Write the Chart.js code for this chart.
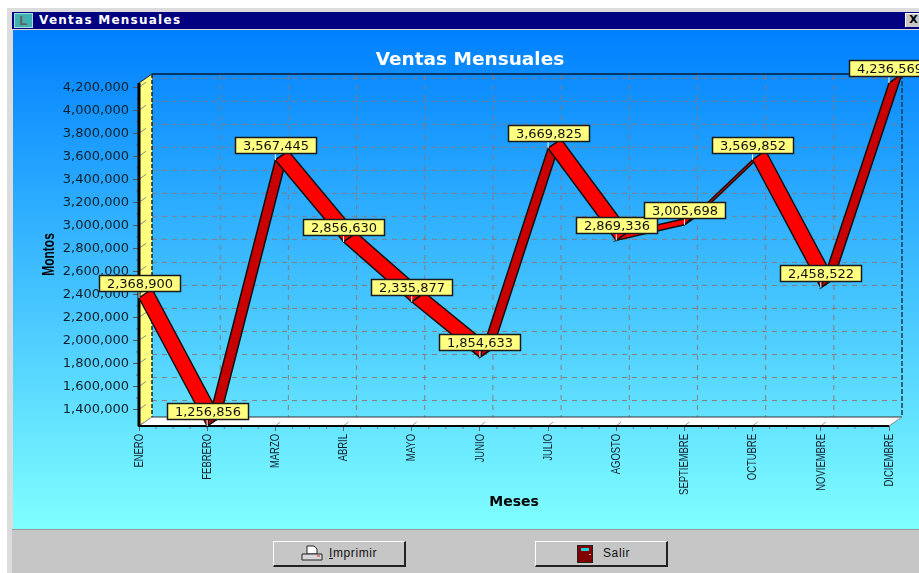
<!DOCTYPE html>
<html>
<head>
<meta charset="utf-8">
<title>Ventas Mensuales</title>
<script src="https://cdn.jsdelivr.net/npm/chart.js@4"></script>
<style>
  html, body { margin: 0; padding: 0; background: #fff; overflow: hidden; }
  #page { position: relative; width: 919px; height: 573px; overflow: hidden; }
  #win { position: absolute; left: 7px; top: 8px; width: 920px; height: 570px; background: #dcdcdc; }
  #titlebar {
    position: absolute; left: 12px; top: 12px; width: 907px; height: 17px; background: #000080;
    color: #fff; font: bold 12px "DejaVu Sans"; line-height: 16px; letter-spacing: 1.25px;
  }
  #titlebar span { position: absolute; left: 27px; top: 0; }
  #icon {
    position: absolute; left: 2px; top: 1px; width: 19px; height: 15px; background: #40b0b0;
    border: 1px solid #a0e0e0; box-sizing: border-box; color: #606060;
    font: bold 13px "Liberation Sans"; line-height: 13px; text-align: center; letter-spacing: 0;
  }
  #close {
    position: absolute; left: 893px; top: 1px; width: 16px; height: 14px; background: #c6c6c6;
    border-top: 1px solid #fff; border-left: 1px solid #fff; box-sizing: border-box;
    color: #000; font: bold 11px "DejaVu Sans"; line-height: 12px; text-align: center; letter-spacing: 0;
  }
  #plot {
    position: absolute; left: 13px; top: 30px; width: 906px; height: 499px;
    background: linear-gradient(to bottom, #0080ff, #80ffff);
  }
  #footer { position: absolute; left: 12px; top: 529px; width: 907px; height: 44px; background: #c6c6c6; border-top: 1px solid #9a9a9a; box-sizing: border-box; }
  .btn {
    position: absolute; top: 541px; width: 133px; height: 26px; box-sizing: border-box; background: #c6c6c6;
    border-top: 1px solid #fff; border-left: 1px solid #fff; border-right: 2px solid #222; border-bottom: 2px solid #222;
    font: 12px "Liberation Sans"; letter-spacing: .6px; color: #111;
  }
  .btn svg { position: absolute; top: 3px; }
  .btn span { position: absolute; top: 4px; }
</style>
</head>
<body>
<div id="page">
  <div id="win"></div>
  <div id="titlebar"><div id="icon">L</div><span>Ventas Mensuales</span><div id="close">X</div></div>
  <div id="plot"><canvas id="ventas_chart" width="906" height="499"></canvas></div>
  <div id="footer"></div>
  <div class="btn" style="left:273px">
    <svg style="left:27px" width="22" height="18"><path d="M6 1h7l3 3v5H6z" fill="#fff" stroke="#222"/><path d="M1 9h20v6H1z" fill="#d8d8d8" stroke="#222"/><path d="M16 11h3" stroke="#e03030"/></svg>
    <span style="left:55px"><u>I</u>mprimir</span>
  </div>
  <div class="btn" style="left:535px">
    <svg style="left:41px" width="16" height="18"><rect x="0.5" y="0.5" width="15" height="17" fill="#800000" stroke="#222"/><rect x="4" y="3" width="8" height="3" fill="#20d0e0"/><rect x="12" y="9" width="2" height="1" fill="#e0c040"/></svg>
    <span style="left:67px">Salir</span>
  </div>
</div>
<script>
'use strict';

// Data
const months = ['ENERO', 'FEBRERO', 'MARZO', 'ABRIL', 'MAYO', 'JUNIO', 'JULIO', 'AGOSTO', 'SEPTIEMBRE', 'OCTUBRE', 'NOVIEMBRE', 'DICIEMBRE'];
const sales = [2368900, 1256856, 3567445, 2856630, 2335877, 1854633, 3669825, 2869336, 3005698, 3569852, 2458522, 4236569];
const yTicks = [1400000, 1600000, 1800000, 2000000, 2200000, 2400000, 2600000, 2800000, 3000000, 3200000, 3400000, 3600000, 3800000, 4000000, 4200000];

// Depth of the fake 3D box
const DX = 13;
const DY = -9;
const GRID = 'rgba(140,118,118,0.9)';
const LABEL_FONT = '13px "DejaVu Sans"';

function poly(ctx, pts, fill, stroke, width) {
    ctx.beginPath();
    pts.forEach((p, i) => i ? ctx.lineTo(p[0], p[1]) : ctx.moveTo(p[0], p[1]));
    ctx.closePath();
    if (fill) { ctx.fillStyle = fill; ctx.fill(); }
    if (stroke) { ctx.strokeStyle = stroke; ctx.lineWidth = width || 1; ctx.stroke(); }
}

function seg(ctx, x1, y1, x2, y2, color, width, dash) {
    ctx.beginPath();
    ctx.setLineDash(dash || []);
    ctx.moveTo(x1, y1);
    ctx.lineTo(x2, y2);
    ctx.strokeStyle = color;
    ctx.lineWidth = width || 1;
    ctx.stroke();
    ctx.setLineDash([]);
}

// Squeezed, rotated text: the reference uses a narrow face that is not installed
function narrowText(ctx, text, x, y, squeeze, align) {
    ctx.save();
    ctx.translate(x, y);
    ctx.rotate(-Math.PI / 2);
    ctx.scale(squeeze, 1);
    ctx.textAlign = align;
    ctx.textBaseline = 'middle';
    ctx.fillText(text, 0, 0);
    ctx.restore();
}

// Walls, floor and grid, behind the ribbon
const boxPlugin = {
    id: 'box3d',
    beforeDatasetsDraw(chart) {
        const ctx = chart.ctx;
        const { left, right, top, bottom } = chart.chartArea;
        const scaleX = chart.scales.x;
        const scaleY = chart.scales.y;
        const dash = [5, 5];
        ctx.save();

        poly(ctx, [[left, top], [left + DX, top + DY], [left + DX, bottom + DY], [left, bottom]], '#ffff80');
        poly(ctx, [[left, bottom], [left + DX, bottom + DY], [right + DX, bottom + DY], [right, bottom]], '#ffffff');

        scaleY.ticks.forEach((t, i) => {
            const y = scaleY.getPixelForValue(t.value);
            seg(ctx, left + DX, y + DY, right + DX, y + DY, GRID, 1, dash);
            seg(ctx, left, y, left + 7, y - 5, '#888', 1);
            if (i < scaleY.ticks.length - 1) {
                const mid = (y + scaleY.getPixelForValue(scaleY.ticks[i + 1].value)) / 2;
                seg(ctx, left - 3, mid, left, mid, '#666', 1);
            }
        });
        scaleX.ticks.forEach((t, i) => {
            const x = scaleX.getPixelForValue(i);
            if (i > 0 && i < months.length - 1) {
                seg(ctx, x + DX, top + DY + 1, x + DX, bottom + DY, GRID, 1, dash);
            }
            if (i < months.length - 1) {
                seg(ctx, x, bottom, x + 5, bottom - 4, '#999', 1);
                const step = (scaleX.getPixelForValue(i + 1) - x) / 4;
                for (let k = 1; k < 4; k++) seg(ctx, x + step * k, bottom, x + step * k, bottom + 3, '#777', 1);
            }
        });

        seg(ctx, right + DX, top + DY, right + DX, bottom + DY, '#1c3a50', 1.5, [5, 2]);
        seg(ctx, left + DX, top + DY, right + DX, top + DY, '#0a1a30', 1.5);
        seg(ctx, left + DX, top + DY, left + DX, bottom + DY, '#222', 1.5, [4, 2]);
        seg(ctx, left + DX, bottom + DY, right + DX, bottom + DY, '#333', 1);
        seg(ctx, left, top, left + DX, top + DY, '#222', 1);
        seg(ctx, left, bottom, left + DX, bottom + DY, '#888', 1);
        seg(ctx, right, bottom, right + DX, bottom + DY, '#888', 1);
        seg(ctx, left, top, left, bottom, '#000', 3);
        seg(ctx, left - 1, bottom, right, bottom, '#000', 2);

        // Month labels and the vertical axis name
        ctx.fillStyle = '#10202c';
        ctx.font = '13.5px "Liberation Sans"';
        months.forEach((m, i) => narrowText(ctx, m, scaleX.getPixelForValue(i), bottom + 8, 0.7, 'right'));
        ctx.fillStyle = '#000';
        ctx.font = 'bold 16px "Liberation Sans"';
        narrowText(ctx, 'Montos', 37, (top + bottom) / 2, 0.75, 'center');
        ctx.restore();
    },

    // Ribbon and value boxes, built from the dataset's own points
    afterDatasetsDraw(chart) {
        const ctx = chart.ctx;
        const pts = chart.getDatasetMeta(0).data;
        ctx.save();
        for (let i = 0; i < pts.length - 1; i++) {
            const a = pts[i];
            const b = pts[i + 1];
            const cross = (b.x - a.x) * DY - (b.y - a.y) * DX;
            poly(ctx, [[a.x, a.y], [b.x, b.y], [b.x + DX, b.y + DY], [a.x + DX, a.y + DY]],
                cross < 0 ? '#ff0000' : '#c80000', '#111', 1.5);
        }

        ctx.font = LABEL_FONT;
        ctx.textAlign = 'center';
        ctx.textBaseline = 'middle';
        pts.forEach((p, i) => {
            const w = 81;
            const h = 16;
            const bx = Math.round(p.x - w / 2) + 0.5;
            const by = Math.round(p.y - 7 - h) + 0.5;
            seg(ctx, p.x, p.y, p.x, by + h, '#fff', 1);
            ctx.fillStyle = '#ffff80';
            ctx.fillRect(bx, by, w, h);
            ctx.strokeStyle = '#1a1a1a';
            ctx.lineWidth = 1.5;
            ctx.strokeRect(bx, by, w, h);
            ctx.fillStyle = '#111';
            ctx.fillText(sales[i].toLocaleString('en-US'), bx + w / 2, by + h / 2 + 1);
        });
        ctx.restore();
    }
};

// Line chart
const ventas = document.querySelector('#ventas_chart');
new Chart(ventas, {
    type: 'line',
    data: {
        labels: months,
        datasets: [{
            label: 'Ventas',
            data: sales,
            showLine: false,
            pointRadius: 0,
            clip: false
        }]
    },
    plugins: [boxPlugin],
    options: {
        responsive: false,
        animation: false,
        layout: {
            padding: { left: 38, right: 30, top: 0, bottom: 0 }
        },
        plugins: {
            legend: { display: false },
            tooltip: { enabled: false },
            title: {
                display: true,
                text: 'Ventas Mensuales',
                color: '#ffffff',
                font: { family: '"DejaVu Sans"', size: 18.5, weight: 'bold' },
                padding: { top: 19, bottom: 11.8 }
            }
        },
        scales: {
            y: {
                min: Math.min(...sales),
                max: Math.max(...sales),
                afterBuildTicks: scale => { scale.ticks = yTicks.map(v => ({ value: v })); },
                afterFit: scale => { scale.width = 88; },
                border: { display: false },
                grid: { drawOnChartArea: false, drawTicks: true, tickLength: 6, color: '#555' },
                ticks: {
                    color: '#10202c',
                    padding: 4,
                    font: { family: '"DejaVu Sans"', size: 13 },
                    callback: value => value.toLocaleString('en-US')
                }
            },
            x: {
                afterFit: scale => { scale.height = 103; },
                border: { display: false },
                grid: { drawOnChartArea: false, drawTicks: true, tickLength: 5, color: '#666' },
                title: {
                    display: true,
                    text: 'Meses',
                    color: '#000',
                    font: { family: '"DejaVu Sans"', size: 14, weight: 'bold' },
                    padding: { top: 0, bottom: 18 }
                },
                ticks: {
                    display: false,
                    autoSkip: false
                }
            }
        }
    }
});
</script>
</body>
</html>
